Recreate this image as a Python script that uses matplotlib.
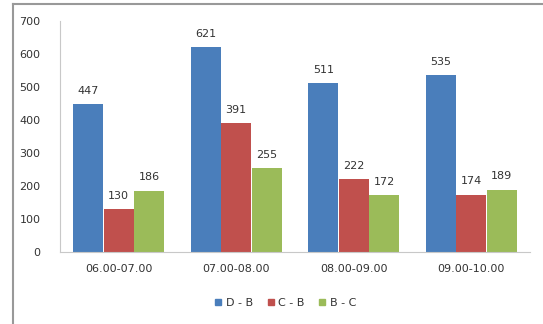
import numpy as np
import matplotlib.pyplot as plt
from matplotlib.lines import Line2D

categories = ['06.00-07.00', '07.00-08.00', '08.00-09.00', '09.00-10.00']
series_names = ['D - B', 'C - B', 'B - C']
d_b = [447, 621, 511, 535]
c_b = [130, 391, 222, 174]
b_c = [186, 255, 172, 189]
colors = ['#4A7EBB', '#C0504D', '#9BBB59']

fig = plt.figure(figsize=(5.43, 3.24), dpi=100)
ax = fig.add_axes([60 / 543, 1 - 252 / 324, 470 / 543, 231 / 324])

x = np.arange(len(categories))
w = 0.255
for i, (vals, name, col) in enumerate(zip([d_b, c_b, b_c], series_names, colors)):
    pos = x + (i - 1) * (w + 0.005)
    bars = ax.bar(pos, vals, width=w, color=col, label=name)
    for b, v in zip(bars, vals):
        ax.text(b.get_x() + b.get_width() / 2, v + 40, str(v),
                ha='center', va='center', fontsize=8, color='#333333')

ax.set_xlim(-0.5, len(categories) - 0.5)
ax.set_ylim(0, 700)
ax.set_yticks(range(0, 701, 100))
ax.set_xticks(x)
ax.set_xticklabels(categories)
ax.tick_params(axis='both', labelsize=8, colors='#333333', length=0)
ax.tick_params(axis='x', pad=9)
ax.tick_params(axis='y', pad=14)
for s in ['top', 'right']:
    ax.spines[s].set_visible(False)
for s in ['left', 'bottom']:
    ax.spines[s].set_color('#C8C8C8')
    ax.spines[s].set_linewidth(0.8)

handles = [Line2D([], [], marker='s', linestyle='', markersize=5,
                  markerfacecolor=c, markeredgecolor=c) for c in colors]
fig.legend(handles, series_names, loc='center', bbox_to_anchor=(285 / 543, 1 - 303 / 324),
           ncol=3, frameon=False, fontsize=8, handlelength=0.8, handletextpad=0.3,
           columnspacing=1.2, labelcolor='#333333')

# outer frame (top and left edges visible in the reference)
fig.add_artist(Line2D([13 / 543, 1], [1 - 4 / 324, 1 - 4 / 324], color='#999999', lw=1.5,
                      transform=fig.transFigure))
fig.add_artist(Line2D([13 / 543, 13 / 543], [0, 1 - 4 / 324], color='#999999', lw=1.5,
                      transform=fig.transFigure))

fig.savefig('out.png', dpi=100)
